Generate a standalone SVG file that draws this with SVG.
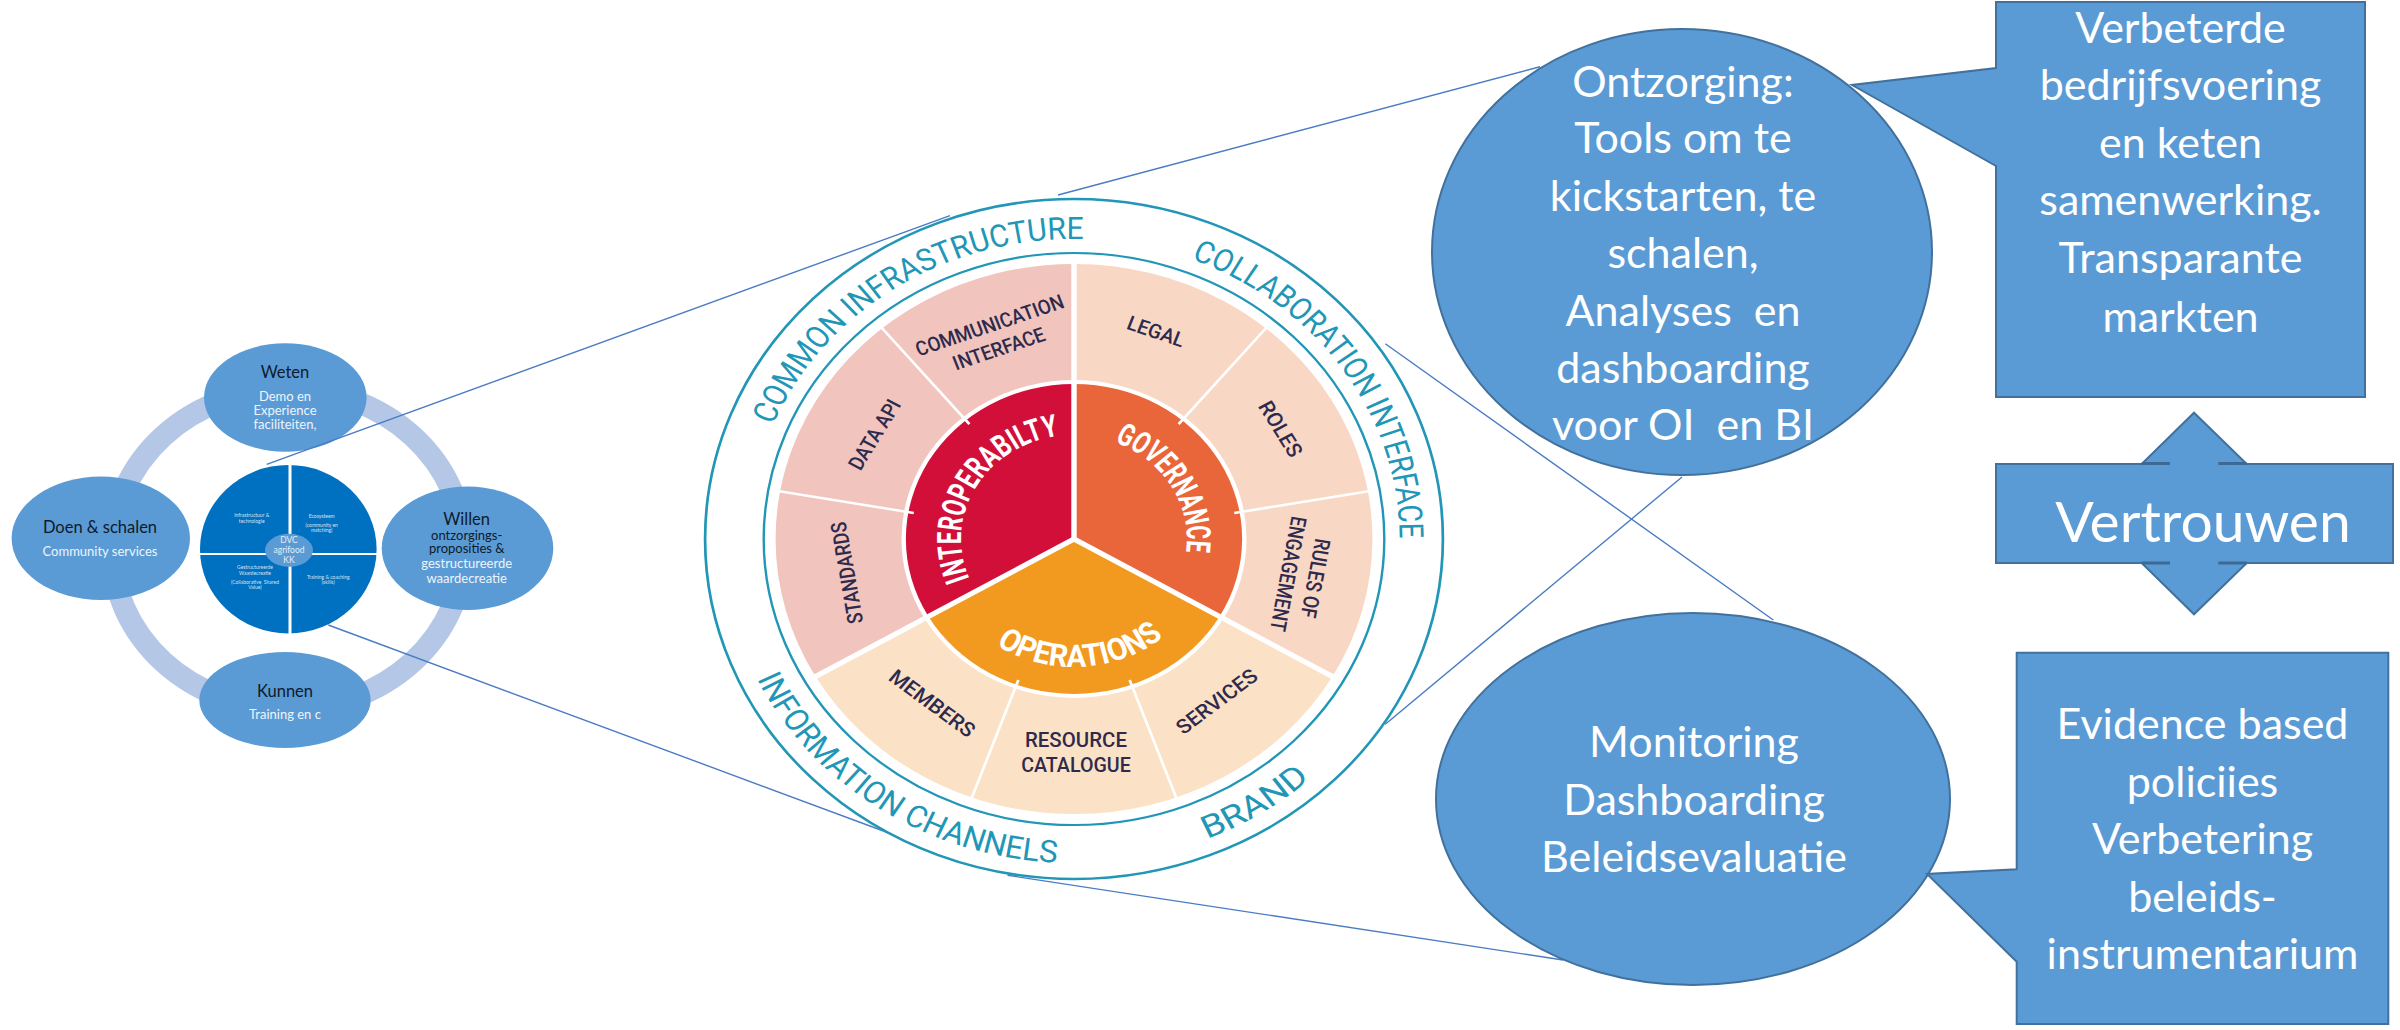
<svg xmlns="http://www.w3.org/2000/svg" width="2400" height="1030" viewBox="0 0 2400 1030">
<style>
.lb{fill:#5b9bd5}
.ttl{font-family:Lato,"Open Sans",sans-serif;font-size:16.5px;fill:#0e1a2b;text-anchor:middle}
.sub{font-family:Lato,"Open Sans",sans-serif;font-size:13px;fill:#eef4fb;text-anchor:middle}
.subd{font-family:Lato,"Open Sans",sans-serif;font-size:13px;fill:#0e1a2b;text-anchor:middle}
.tiny{font-family:Lato,sans-serif;font-size:5px;fill:#d5e3f3;text-anchor:middle}
.dvc{font-family:Lato,sans-serif;font-size:8.5px;fill:#e4eef9;text-anchor:middle}
.shape{fill:#5b9bd5;stroke:#41719c;stroke-width:2}
.big{font-family:Lato,"Open Sans",sans-serif;font-size:43px;fill:#fff;text-anchor:middle;white-space:pre}
.conn{stroke:#4a7cc4;stroke-width:1.4;fill:none}
.seg{font-family:"Liberation Sans Narrow",Roboto,sans-serif;font-size:20px;font-weight:500;fill:#2e2a4c;text-anchor:middle}
.core{font-family:"Liberation Sans Narrow",Roboto,sans-serif;font-size:31px;font-weight:bold;fill:#fff;text-anchor:middle}
.band{font-family:"Liberation Sans Narrow",Roboto,sans-serif;font-size:31px;fill:#2196b6;text-anchor:middle}
.thin{stroke:#fff;stroke-width:2.5}
.thick{stroke:#fff;stroke-width:5}
</style>
<defs>
<path id="pCommon" d="M-297.8,-36.6 A300,300 0 0 1 87.7,-286.9"/>
<path id="pCollab" d="M28.8,-298.6 A300,300 0 0 1 289.1,80.2"/>
<path id="pInfo" d="M-322,36.1 A324,324 0 0 0 91.5,310.8"/>
<path id="pBrand" d="M12.7,323.7 A324,324 0 0 0 286.7,150.9"/>
<path id="pInter" d="M-79.7,66.9 A104,104 0 0 1 18.1,-102.4"/>
<path id="pGov" d="M-19.8,-102.1 A104,104 0 0 1 80.8,65.4"/>
<path id="pOps" d="M-117.8,50 A128,128 0 0 0 122.4,37.4"/>
</defs>
<rect width="2400" height="1030" fill="#fff"/>

<!-- left diagram -->
<g id="left-ring"><ellipse cx="288" cy="549" rx="176" ry="160" fill="none" stroke="#b4c7e7" stroke-width="22"/></g>
<g id="weten">
<ellipse class="lb" cx="285.3" cy="397.5" rx="81.3" ry="54.2"/>
<text class="ttl" x="285" y="378.3">Weten</text>
<text class="sub" x="285" y="401">Demo en</text>
<text class="sub" x="285" y="415">Experience</text>
<text class="sub" x="285" y="429">faciliteiten,</text>
</g>
<g id="doen">
<ellipse class="lb" cx="100.8" cy="538.3" rx="89.2" ry="61.7"/>
<text class="ttl" x="100" y="533.3">Doen &amp; schalen</text>
<text class="sub" x="100" y="556">Community services</text>
</g>
<g id="willen">
<ellipse class="lb" cx="467.5" cy="548.3" rx="85.8" ry="61.7"/>
<text class="ttl" x="466.7" y="525">Willen</text>
<text class="subd" x="466.7" y="540">ontzorgings-</text>
<text class="subd" x="466.7" y="553.3">proposities &amp;</text>
<text class="sub" x="466.7" y="568.3">gestructureerde</text>
<text class="sub" x="466.7" y="582.7">waardecreatie</text>
</g>
<g id="kunnen">
<ellipse class="lb" cx="285" cy="700" rx="85.7" ry="48"/>
<text class="ttl" x="285" y="696.7">Kunnen</text>
<text class="sub" x="285" y="719.3">Training en c</text>
</g>
<g id="center-disk">
<ellipse cx="288.3" cy="549.2" rx="88.3" ry="84.2" fill="#0070c0"/>
<line x1="290" y1="463" x2="290" y2="636" stroke="#fff" stroke-width="3"/>
<line x1="198" y1="554" x2="378" y2="554" stroke="#fff" stroke-width="2"/>
<text class="tiny" x="251.7" y="517">Infrastructuur &amp;</text>
<text class="tiny" x="251.7" y="522.5">technologie</text>
<text class="tiny" x="321.7" y="518">Ecosysteem</text>
<text class="tiny" x="321.7" y="526.5">(community en</text>
<text class="tiny" x="321.7" y="532">matching)</text>
<text class="tiny" x="255" y="569">Gestructureerde</text>
<text class="tiny" x="255" y="574.5">Waardecreatie</text>
<text class="tiny" x="255" y="583.5" style="white-space:pre">(Collaborative  Shared</text>
<text class="tiny" x="255" y="589">Value)</text>
<text class="tiny" x="328.3" y="578.5">Training &amp; coaching</text>
<text class="tiny" x="328.3" y="584">(skills)</text>
<ellipse cx="289" cy="550.3" rx="24" ry="16.5" fill="#5b9bd5"/>
<text class="dvc" x="289" y="543">DVC</text>
<text class="dvc" x="289" y="553">agrifood</text>
<text class="dvc" x="289" y="563">KK</text>
</g>

<!-- connectors -->
<g id="connectors">
<line class="conn" x1="266.7" y1="464.3" x2="950" y2="215.6"/>
<line class="conn" x1="328.3" y1="625" x2="905" y2="839"/>
<line class="conn" x1="1058" y1="195" x2="1540" y2="66.7"/>
<line class="conn" x1="1007.5" y1="875.3" x2="1563" y2="960"/>
<line class="conn" x1="1682" y1="477" x2="1385.3" y2="724.2"/>
<line class="conn" x1="1385.3" y1="343.8" x2="1773.3" y2="620"/>
</g>

<!-- wheel -->
<g id="wheel" transform="translate(1074,539) scale(1.085,1)">
<circle r="340" fill="#fff" stroke="#2196b6" stroke-width="2.5"/>
<circle r="286" fill="none" stroke="#2196b6" stroke-width="2.2"/>
<path d="M0,-275 A275,275 0 0 0 -238.2,137.5 L-137.7,79.5 A159,159 0 0 1 0,-159 Z" fill="#f1c4be"/>
<path d="M238.2,137.5 A275,275 0 0 0 0,-275 L0,-159 A159,159 0 0 1 137.7,79.5 Z" fill="#f9d7c5"/>
<path d="M-238.2,137.5 A275,275 0 0 0 238.2,137.5 L137.7,79.5 A159,159 0 0 1 -137.7,79.5 Z" fill="#fbe1c5"/>
<path d="M0,0 L0,-155 A155,155 0 0 0 -134.2,77.5 Z" fill="#d20f39"/>
<path d="M0,0 L0,-155 A155,155 0 0 1 134.2,77.5 Z" fill="#e9663a"/>
<path d="M0,0 L-134.2,77.5 A155,155 0 0 0 134.2,77.5 Z" fill="#f29a1f"/>
<line class="thin" x1="-96.4" y1="-114.9" x2="-180" y2="-214.5"/>
<line class="thin" x1="-147.7" y1="-26" x2="-275.7" y2="-48.6"/>
<line class="thin" x1="-51.3" y1="141" x2="-95.8" y2="263.1"/>
<line class="thin" x1="51.3" y1="141" x2="95.8" y2="263.1"/>
<line class="thin" x1="147.7" y1="-26" x2="275.7" y2="-48.6"/>
<line class="thin" x1="96.4" y1="-114.9" x2="180" y2="-214.5"/>
<line class="thick" x1="0" y1="0" x2="0" y2="-280"/>
<line class="thick" x1="0" y1="0" x2="-242.5" y2="140"/>
<line class="thick" x1="0" y1="0" x2="242.5" y2="140"/>

<text class="band"><textPath href="#pCommon" startOffset="50%" textLength="363" lengthAdjust="spacingAndGlyphs">COMMON INFRASTRUCTURE</textPath></text>
<text class="band"><textPath href="#pCollab" startOffset="50%" textLength="360" lengthAdjust="spacingAndGlyphs">COLLABORATION INTERFACE</textPath></text>
<text class="band"><textPath href="#pInfo" startOffset="50%" textLength="348" lengthAdjust="spacingAndGlyphs">INFORMATION CHANNELS</textPath></text>
<text class="band"><textPath href="#pBrand" startOffset="50%" textLength="113" lengthAdjust="spacingAndGlyphs">BRAND</textPath></text>

<text class="core"><textPath href="#pInter" startOffset="50%" textLength="190" lengthAdjust="spacingAndGlyphs">INTEROPERABILTY</textPath></text>
<text class="core"><textPath href="#pGov" startOffset="50%" textLength="138" lengthAdjust="spacingAndGlyphs">GOVERNANCE</textPath></text>
<text class="core"><textPath href="#pOps" startOffset="50%" textLength="166" lengthAdjust="spacingAndGlyphs">OPERATIONS</textPath></text>

<g transform="translate(-73.5,-202) rotate(-20)">
<text class="seg" y="-5.5" textLength="144" lengthAdjust="spacingAndGlyphs">COMMUNICATION</text>
<text class="seg" y="19.5" textLength="89" lengthAdjust="spacingAndGlyphs">INTERFACE</text>
</g>
<g transform="translate(75.6,-207.7) rotate(20)"><text class="seg" y="7" textLength="55" lengthAdjust="spacingAndGlyphs">LEGAL</text></g>
<g transform="translate(190.5,-110) rotate(60)"><text class="seg" y="7" textLength="61" lengthAdjust="spacingAndGlyphs">ROLES</text></g>
<g transform="translate(209.8,37) rotate(100)">
<text class="seg" y="-6" textLength="80" lengthAdjust="spacingAndGlyphs">RULES OF</text>
<text class="seg" y="19.5" textLength="116" lengthAdjust="spacingAndGlyphs">ENGAGEMENT</text>
</g>
<g transform="translate(131.5,162.4) rotate(-39)"><text class="seg" y="7" textLength="90" lengthAdjust="spacingAndGlyphs">SERVICES</text></g>
<g transform="translate(1.8,212.9)">
<text class="seg" y="-5" textLength="94" lengthAdjust="spacingAndGlyphs">RESOURCE</text>
<text class="seg" y="20.5" textLength="101" lengthAdjust="spacingAndGlyphs">CATALOGUE</text>
</g>
<g transform="translate(-130.7,164.3) rotate(38.5)"><text class="seg" y="7" textLength="95" lengthAdjust="spacingAndGlyphs">MEMBERS</text></g>
<g transform="translate(-209.3,33.9) rotate(-99.2)"><text class="seg" y="7" textLength="103" lengthAdjust="spacingAndGlyphs">STANDARDS</text></g>
<g transform="translate(-183.9,-104.5) rotate(-60.4)"><text class="seg" y="7" textLength="77" lengthAdjust="spacingAndGlyphs">DATA API</text></g>
</g>

<!-- right side -->
<g id="ontzorging">
<ellipse class="shape" cx="1682" cy="252" rx="250" ry="223"/>
<text class="big" x="1683" y="97">Ontzorging:</text>
<text class="big" x="1683" y="153">Tools om te</text>
<text class="big" x="1683" y="211">kickstarten, te</text>
<text class="big" x="1683" y="268">schalen,</text>
<text class="big" x="1683" y="326">Analyses  en</text>
<text class="big" x="1683" y="383">dashboarding</text>
<text class="big" x="1683" y="440">voor OI  en BI</text>
</g>
<g id="verbeterde">
<path class="shape" d="M1996,2 L2365,2 L2365,397 L1996,397 L1996,166 L1852,85 L1996,68 Z"/>
<text class="big" x="2180.5" y="43">Verbeterde</text>
<text class="big" x="2180.5" y="100">bedrijfsvoering</text>
<text class="big" x="2180.5" y="158">en keten</text>
<text class="big" x="2180.5" y="215">samenwerking.</text>
<text class="big" x="2180.5" y="273">Transparante</text>
<text class="big" x="2180.5" y="332">markten</text>
</g>
<g id="vertrouwen">
<path class="shape" d="M1996,464 L2141.7,464 L2194,412.7 L2246.7,464 L2393,464 L2393,563 L2246.7,563 L2194,614.3 L2141.7,563 L1996,563 Z"/>
<g stroke="#3d6a95" stroke-width="3">
<line x1="2141.7" y1="463.5" x2="2170" y2="463.5"/>
<line x1="2218.3" y1="463.5" x2="2246.7" y2="463.5"/>
<line x1="2141.7" y1="563" x2="2170" y2="563"/>
<line x1="2218.3" y1="563" x2="2246.7" y2="563"/>
</g>
<text class="big" x="2203" y="541.7" style="font-size:57px">Vertrouwen</text>
</g>
<g id="monitoring">
<ellipse class="shape" cx="1693" cy="799" rx="257" ry="186"/>
<text class="big" x="1694" y="757.3">Monitoring</text>
<text class="big" x="1694" y="815">Dashboarding</text>
<text class="big" x="1694" y="871.7">Beleidsevaluatie</text>
</g>
<g id="evidence">
<path class="shape" d="M2016.7,652.7 L2388.3,652.7 L2388.3,1024 L2016.7,1024 L2016.7,961.7 L1927,874 L2016.7,869.3 Z"/>
<text class="big" x="2202.5" y="739.3">Evidence based</text>
<text class="big" x="2202.5" y="796.7">policiies</text>
<text class="big" x="2202.5" y="854">Verbetering</text>
<text class="big" x="2202.5" y="911.7">beleids-</text>
<text class="big" x="2202.5" y="969.3">instrumentarium</text>
</g>
</svg>
